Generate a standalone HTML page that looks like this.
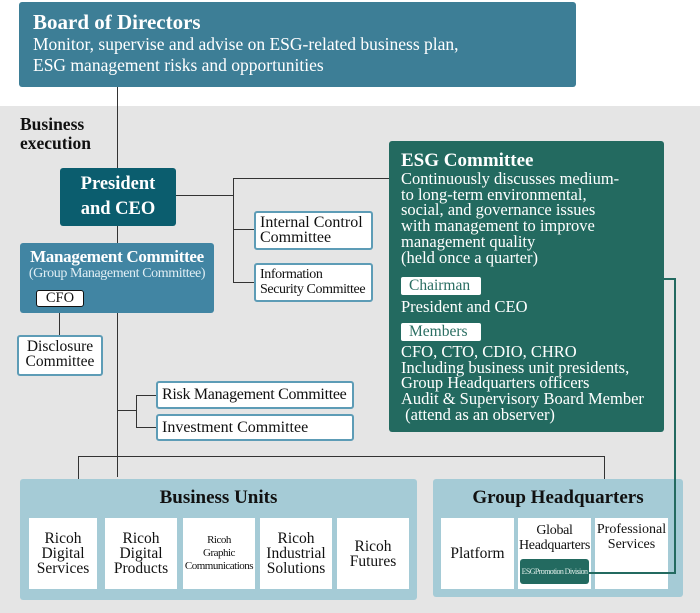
<!DOCTYPE html>
<html><head><meta charset="utf-8"><style>
body{margin:0;width:700px;height:613px;position:relative;background:#fff;font-family:"Liberation Serif",serif;overflow:hidden}
.a{position:absolute;box-sizing:border-box}
.l{position:absolute;background:#333}
.w{background:#fff;border:2px solid #5d9cb6;border-radius:3px;color:#111;font-size:15.5px;line-height:15px;padding:2px 4px;white-space:nowrap}
.u{background:#fff;color:#111;text-align:center;font-size:15.5px;line-height:15px;display:flex;align-items:center;justify-content:center}
.tag{background:#fff;color:#2a6e62;border-radius:2px;font-size:15.5px;line-height:18px;padding-left:8px}
</style></head><body>
<div class="a" style="left:0;top:106px;width:700px;height:507px;background:#e5e5e5"></div>
<div class="a" style="left:19px;top:2px;width:557px;height:85px;background:#3d7e96;border-radius:3px;color:#fff;padding:8px 0 0 14px">
<div style="font-weight:bold;font-size:21px;line-height:24px">Board of Directors</div>
<div style="font-size:17.5px;line-height:21px">Monitor, supervise and advise on ESG-related business plan,<br>ESG management risks and opportunities</div></div>
<div class="a" style="left:20px;top:115px;font-weight:bold;font-size:17.5px;line-height:19px;color:#111">Business<br>execution</div>
<div class="l" style="left:117px;top:87px;width:1px;height:82px"></div>
<div class="l" style="left:117px;top:226px;width:1px;height:18px"></div>
<div class="l" style="left:117px;top:313px;width:1px;height:164px"></div>
<div class="l" style="left:175px;top:195px;width:58px;height:1px"></div>
<div class="l" style="left:233px;top:178px;width:1px;height:104px"></div>
<div class="l" style="left:233px;top:178px;width:156px;height:1px"></div>
<div class="l" style="left:233px;top:229px;width:21px;height:1px"></div>
<div class="l" style="left:233px;top:282px;width:21px;height:1px"></div>
<div class="l" style="left:59px;top:306px;width:1px;height:30px"></div>
<div class="l" style="left:117px;top:410px;width:19px;height:1px"></div>
<div class="l" style="left:136px;top:395px;width:1px;height:33px"></div>
<div class="l" style="left:136px;top:395px;width:20px;height:1px"></div>
<div class="l" style="left:136px;top:427px;width:20px;height:1px"></div>
<div class="l" style="left:78px;top:456px;width:526px;height:1px"></div>
<div class="l" style="left:78px;top:456px;width:1px;height:24px"></div>
<div class="l" style="left:604px;top:456px;width:1px;height:24px"></div>
<div class="a" style="left:60px;top:168px;width:116px;height:58px;background:#0b5d6e;border-radius:3px;color:#fff;font-weight:bold;font-size:18.5px;line-height:25px;text-align:center;padding-top:4px">President<br>and CEO</div>
<div class="a" style="left:20px;top:243px;width:194px;height:70px;background:#4185a3;border-radius:3px;color:#fff;text-align:center;padding-top:5px">
<div style="font-weight:bold;font-size:17px;line-height:18px;letter-spacing:-0.3px">Management Committee</div>
<div style="font-size:14px;line-height:15px;color:#e0eef4;letter-spacing:-0.4px">(Group Management Committee)</div></div>
<div class="a" style="left:36px;top:290px;width:48px;height:17px;background:#fff;border:1.5px solid #111;border-radius:3px;font-size:14.5px;line-height:14px;text-align:center;color:#111">CFO</div>
<div class="a w" style="left:17px;top:335px;width:86px;height:41px;text-align:center;padding:2px 0">Disclosure<br>Committee</div>
<div class="a w" style="left:254px;top:211px;width:119px;height:39px;line-height:15px;font-size:16px">Internal Control<br>Committee</div>
<div class="a w" style="left:254px;top:263px;width:119px;height:39px;font-size:14px;letter-spacing:-0.4px">Information<br>Security Committee</div>
<div class="a w" style="left:156px;top:381px;width:198px;height:28px;line-height:20px;font-size:16px;letter-spacing:-0.3px">Risk Management Committee</div>
<div class="a w" style="left:156px;top:414px;width:198px;height:27px;line-height:20px;font-size:16px">Investment Committee</div>
<div class="a" style="left:389px;top:141px;width:275px;height:291px;background:#236a60;border-radius:3px;color:#fff;padding:9px 12px">
<div style="font-weight:bold;font-size:19px;line-height:21px">ESG Committee</div>
<div style="font-size:16.5px;line-height:15.7px;white-space:nowrap">Continuously discusses medium-<br>to long-term environmental,<br>social, and governance issues<br>with management to improve<br>management quality<br>(held once a quarter)</div>
<div class="a tag" style="left:12px;top:136px;width:80px;height:18px">Chairman</div>
<div class="a" style="left:12px;top:157px;font-size:16.5px;line-height:18px">President and CEO</div>
<div class="a tag" style="left:12px;top:182px;width:80px;height:18px">Members</div>
<div class="a" style="left:12px;top:203px;font-size:16.5px;line-height:15.7px;white-space:nowrap">CFO, CTO, CDIO, CHRO<br>Including business unit presidents,<br>Group Headquarters officers<br>Audit &amp; Supervisory Board Member<br>&nbsp;(attend as an observer)</div></div>
<div class="a" style="left:20px;top:479px;width:397px;height:121px;background:#a5cbd6;border-radius:3px"></div>
<div class="a" style="left:20px;top:487px;width:397px;text-align:center;font-weight:bold;font-size:19px;color:#111">Business Units</div>
<div class="a u" style="left:29px;top:518px;width:68px;height:71px">Ricoh<br>Digital<br>Services</div>
<div class="a u" style="left:105px;top:518px;width:72px;height:71px">Ricoh<br>Digital<br>Products</div>
<div class="a u" style="left:183px;top:518px;width:72px;height:71px;font-size:11px;line-height:13px;letter-spacing:-0.5px">Ricoh<br>Graphic<br>Communications</div>
<div class="a u" style="left:260px;top:518px;width:72px;height:71px">Ricoh<br>Industrial<br>Solutions</div>
<div class="a u" style="left:337px;top:518px;width:72px;height:71px">Ricoh<br>Futures</div>
<div class="a" style="left:433px;top:479px;width:250px;height:118px;background:#a5cbd6;border-radius:3px"></div>
<div class="a" style="left:433px;top:487px;width:250px;text-align:center;font-weight:bold;font-size:19px;color:#111">Group Headquarters</div>
<div class="a u" style="left:441px;top:518px;width:73px;height:71px">Platform</div>
<div class="a u" style="left:518px;top:518px;width:73px;height:71px;align-items:flex-start;padding-top:5px;font-size:14px;letter-spacing:-0.3px">Global<br>Headquarters</div>
<div class="a u" style="left:595px;top:518px;width:73px;height:71px;align-items:flex-start;padding-top:4px;font-size:14px">Professional<br>Services</div>
<div class="a" style="left:520px;top:559px;width:69px;height:25px;background:#236a60;border-radius:3px;color:#e0eee9;font-size:8px;line-height:25px;text-align:center;letter-spacing:-0.6px;white-space:nowrap;overflow:hidden">ESGPromotion Division</div>
<div class="a" style="left:664px;top:278px;width:12px;height:2px;background:#236a60"></div>
<div class="a" style="left:674px;top:278px;width:2px;height:296px;background:#236a60"></div>
<div class="a" style="left:589px;top:572px;width:87px;height:2px;background:#236a60"></div>
</body></html>
